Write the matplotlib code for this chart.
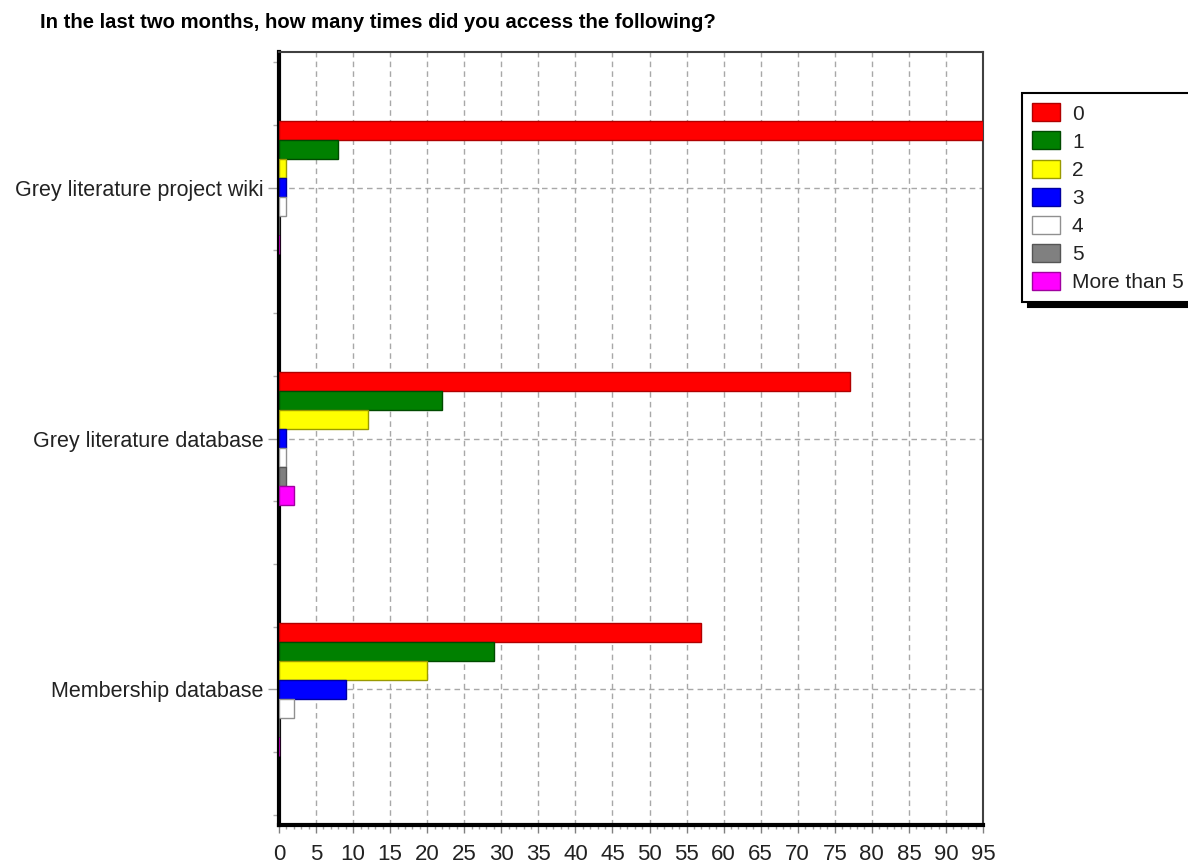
import numpy as np
import matplotlib
matplotlib.use("Agg")
import matplotlib.pyplot as plt
from matplotlib.ticker import MultipleLocator, FixedLocator

# survey answers: how often each resource was accessed
categories = ['Grey literature project wiki', 'Grey literature database', 'Membership database']
responses = ['0', '1', '2', '3', '4', '5', 'More than 5']

count_0 = [95, 77, 57]
count_1 = [8, 22, 29]
count_2 = [1, 12, 20]
count_3 = [1, 1, 9]
count_4 = [1, 1, 2]
count_5 = [0, 1, 0]
count_more = [0, 2, 0]

series = [count_0, count_1, count_2, count_3, count_4, count_5, count_more]
fills = ['#ff0000', '#008000', '#ffff00', '#0000ff', '#ffffff', '#808080', '#ff00ff']
edges = ['#b00000', '#004a00', '#9a9a00', '#0000a0', '#909090', '#555555', '#a000a0']

plt.rcParams['font.family'] = ['Liberation Sans', 'DejaVu Sans']

fig = plt.figure(figsize=(11.88, 8.67), dpi=100)
ax = fig.add_axes([279 / 1188, 1 - 825 / 867, (983 - 279) / 1188, (825 - 52) / 867])

# grouped horizontal bars, first answer on top of each group
bar_h = 0.0757
group_h = bar_h * len(series)
y = np.arange(len(categories))
for k, vals in enumerate(series):
    pos = y - group_h / 2 + (k + 0.5) * bar_h
    ax.barh(pos, vals, height=bar_h, color=fills[k], edgecolor=edges[k],
            linewidth=1.0, label=responses[k], zorder=3)

ax.set_xlim(0, 95)
ax.set_ylim(2.54, -0.54)

ax.xaxis.set_major_locator(MultipleLocator(5))
ax.xaxis.set_minor_locator(MultipleLocator(1))
ax.set_yticks(y)
ax.set_yticklabels(categories)
ax.yaxis.set_minor_locator(FixedLocator([-0.5, -0.25, 0.25, 0.5, 0.75, 1.25, 1.5, 1.75, 2.25, 2.5]))

ax.tick_params(axis='x', which='major', length=6, width=1, color='#808080',
               labelsize=16, labelcolor='#222222', pad=8)
ax.tick_params(axis='x', which='minor', length=3, width=1, color='#a0a0a0')
ax.tick_params(axis='y', which='major', length=8, width=1, color='#a0a0a0',
               labelsize=15.5, labelcolor='#222222', pad=3)
ax.tick_params(axis='y', which='minor', length=4, width=1, color='#b0b0b0')

ax.grid(True, which='major', color='#a8a8a8', linestyle=(0, (4, 3)), linewidth=1, zorder=0)
ax.set_axisbelow(True)

ax.spines['left'].set_linewidth(3)
ax.spines['left'].set_color('black')
ax.spines['bottom'].set_linewidth(3)
ax.spines['bottom'].set_color('black')
ax.spines['top'].set_linewidth(1.5)
ax.spines['top'].set_color('#404040')
ax.spines['right'].set_linewidth(1.5)
ax.spines['right'].set_color('#404040')

fig.text(40 / 1188, 1 - 22 / 867,
         'In the last two months, how many times did you access the following?',
         ha='left', va='center', fontsize=14.6, fontweight='bold', color='black')

leg = fig.legend(loc='upper left', bbox_to_anchor=(1022 / 1188, 1 - 93 / 867),
                 fontsize=15, frameon=True, fancybox=False, edgecolor='black',
                 shadow={'ox': 4, 'oy': -3, 'color': 'black', 'alpha': 1},
                 handlelength=1.3, handleheight=0.95, handletextpad=0.6,
                 labelspacing=0.38, borderpad=0.5, borderaxespad=0)
leg.get_frame().set_linewidth(1.5)
for t in leg.get_texts():
    t.set_color('#222222')

fig.savefig('out.png', dpi=100)
